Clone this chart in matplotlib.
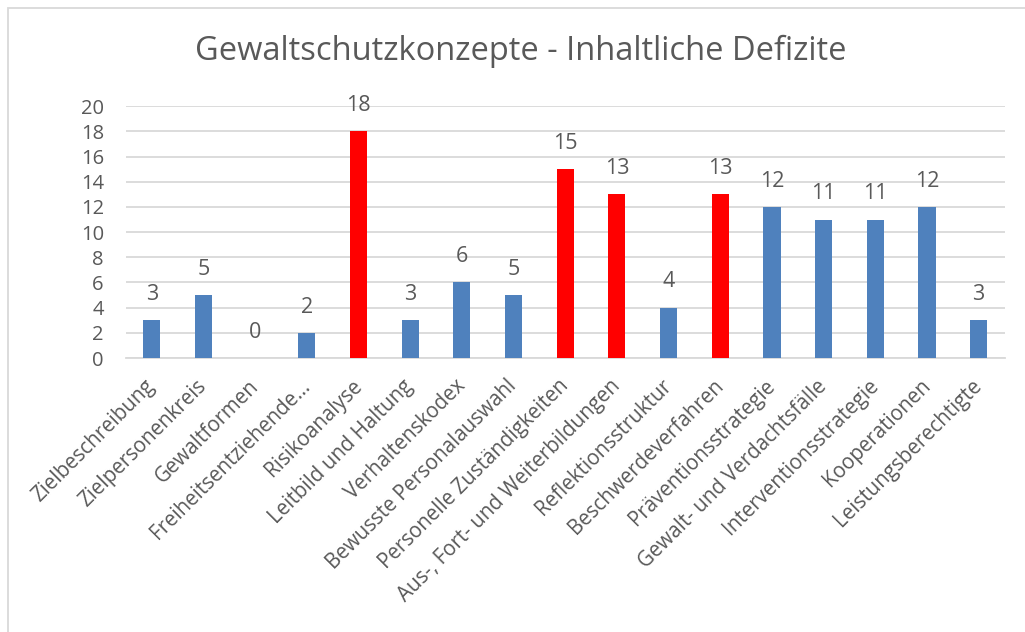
import matplotlib.pyplot as plt
from matplotlib.patches import Rectangle

categories = ["Zielbeschreibung", "Zielpersonenkreis", "Gewaltformen",
              "Freiheitsentziehende...", "Risikoanalyse", "Leitbild und Haltung",
              "Verhaltenskodex", "Bewusste Personalauswahl",
              "Personelle Zuständigkeiten", "Aus-, Fort- und Weiterbildungen",
              "Reflektionsstruktur", "Beschwerdeverfahren", "Präventionsstrategie",
              "Gewalt- und Verdachtsfälle", "Interventionsstrategie",
              "Kooperationen", "Leistungsberechtigte"]
values = [3, 5, 0, 2, 18, 3, 6, 5, 15, 13, 4, 13, 12, 11, 11, 12, 3]
highlight = [False, False, False, False, True, False, False, False,
             True, True, False, True, False, False, False, False, False]

plt.rcParams['font.family'] = ['Open Sans', 'DejaVu Sans']
txt = '#595959'

fig = plt.figure(figsize=(10.25, 6.32), dpi=100)
ax = fig.add_axes([0.123, 0.4335, 0.857, 0.3985])

colors = ['#ff0000' if h else '#4f81bd' for h in highlight]
x = list(range(len(values)))
ax.bar(x, values, width=0.33, color=colors, zorder=3)
for xi, v in zip(x, values):
    ax.text(xi, v + 2.05, str(v), ha='center', va='center', fontsize=15.5, color=txt)

ax.set_xlim(-0.5, len(values) - 0.5)
ax.set_ylim(0, 20)
ax.set_yticks(range(0, 21, 2))
ax.yaxis.grid(True, color='#d9d9d9', linewidth=1.3, zorder=0)
ax.tick_params(axis='y', length=0, labelsize=14.5, labelcolor=txt, pad=16)
ax.set_xticks(x)
ax.set_xticklabels(categories, rotation=45, ha='right', va='center',
                   rotation_mode='anchor', fontsize=14.8, color=txt)
ax.tick_params(axis='x', length=0, pad=18)
for s in ['top', 'right', 'left']:
    ax.spines[s].set_visible(False)
ax.spines['bottom'].set_color('#d9d9d9')
ax.spines['bottom'].set_linewidth(1.3)

fig.text(0.508, 0.918, 'Gewaltschutzkonzepte - Inhaltliche Defizite',
         ha='center', va='center', fontsize=23.5, color=txt)

# light frame around the chart area
fig.patches.append(Rectangle((8 / 1025, -0.1), 1.2, (632 - 8) / 632 + 0.1,
                             transform=fig.transFigure, fill=False,
                             edgecolor='#d9d9d9', linewidth=1.3))

fig.savefig('out.png', dpi=100)
